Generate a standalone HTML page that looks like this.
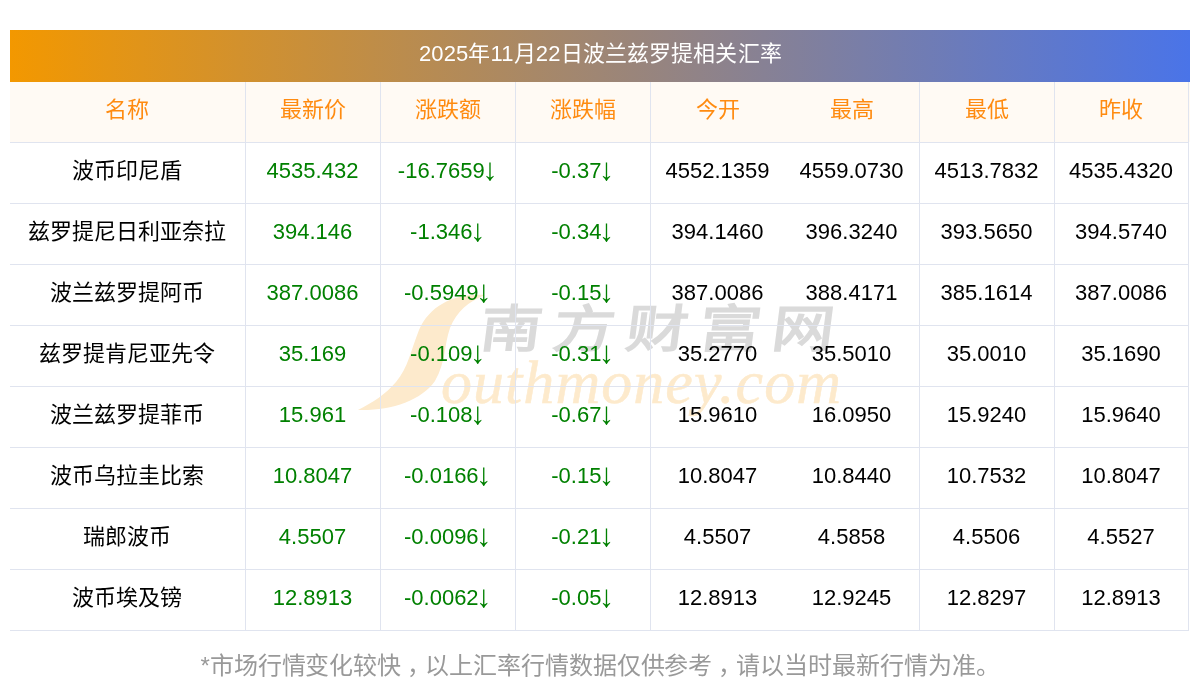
<!DOCTYPE html>
<html lang="zh-CN">
<head>
<meta charset="utf-8">
<title>2025年11月22日波兰兹罗提相关汇率</title>
<style>
html,body{margin:0;padding:0;background:#fff;}
body{width:1200px;height:697px;position:relative;overflow:hidden;font-family:"Liberation Sans",sans-serif;font-size:22px;color:#000;}
#title{position:absolute;left:10px;top:30px;width:1180px;height:52px;line-height:47px;text-align:center;color:#fff;font-size:22px;letter-spacing:0.13px;
background:linear-gradient(90deg,#f39800 0%,#4a74e8 100%);}
#hbg{position:absolute;left:10px;top:82px;width:1180px;height:60px;background:#fffaf4;}
#grid{will-change:transform;position:absolute;left:10px;top:82px;width:1179px;display:grid;grid-template-columns:236px 135px 135px 135px 135px 134px 135px 134px;grid-auto-rows:61px;}
#grid>div{box-sizing:border-box;border-right:1px solid #e0e4ef;border-bottom:1px solid #e0e4ef;line-height:55px;height:61px;text-align:center;white-space:nowrap;overflow:hidden;padding-right:1px;}
#grid>div:nth-child(8n+5),#grid>div:nth-child(8n+6){padding-right:2px;}
#grid>div.h{color:#ff8b10;}
#grid>div.g{color:#008000;}
#grid>div.nb{border-right:none;}
.c{position:relative;left:5.5px;}
.a{font-size:31px;line-height:0;position:relative;top:2px;margin-left:-2.6px;margin-right:-0.5px;}
#note{will-change:transform;position:absolute;left:0;top:649px;letter-spacing:-0.07px;width:1200px;text-align:center;font-size:24px;color:#999;line-height:34px;white-space:nowrap;}
</style>
</head>
<body>
<div id="title"><span style="will-change:transform;display:inline-block;">2025年11月22日波兰兹罗提相关汇率</span></div>
<div id="hbg"></div>
<svg id="wm" width="1200" height="697" viewBox="0 0 1200 697" style="position:absolute;left:0;top:0;">
<path d="M485,295 C455,293 430,305 419,330 C411,350 408,368 396,382 C386,394 372,403 358,410 C390,411 421,401 435,381 C446,362 444,345 450,328 C457,311 468,302 485,295 Z" fill="#fdeacc"/>
<text x="441" y="402.5" font-family="Liberation Serif, serif" font-style="italic" font-size="62" fill="#fdeacc" stroke="#fdeacc" stroke-width="0.5" textLength="400" lengthAdjust="spacing">outhmoney.com</text>
<g transform="translate(478,347) scale(1.22,1) skewX(-6)"><text x="0" y="0" font-family="Liberation Sans, sans-serif" font-weight="bold" font-size="51" fill="#dadada" letter-spacing="9">南方财富网</text></g>
</svg>
<div id="grid">
<div class="h">名称</div><div class="h">最新价</div><div class="h">涨跌额</div><div class="h">涨跌幅</div><div class="h nb">今开</div><div class="h">最高</div><div class="h">最低</div><div class="h">昨收</div>
<div>波币印尼盾</div><div class="g">4535.432</div><div class="g">-16.7659<span class="a">↓</span></div><div class="g">-0.37<span class="a">↓</span></div><div class="nb">4552.1359</div><div>4559.0730</div><div>4513.7832</div><div>4535.4320</div>
<div>兹罗提尼日利亚奈拉</div><div class="g">394.146</div><div class="g">-1.346<span class="a">↓</span></div><div class="g">-0.34<span class="a">↓</span></div><div class="nb">394.1460</div><div>396.3240</div><div>393.5650</div><div>394.5740</div>
<div>波兰兹罗提阿币</div><div class="g">387.0086</div><div class="g">-0.5949<span class="a">↓</span></div><div class="g">-0.15<span class="a">↓</span></div><div class="nb">387.0086</div><div>388.4171</div><div>385.1614</div><div>387.0086</div>
<div>兹罗提肯尼亚先令</div><div class="g">35.169</div><div class="g">-0.109<span class="a">↓</span></div><div class="g">-0.31<span class="a">↓</span></div><div class="nb">35.2770</div><div>35.5010</div><div>35.0010</div><div>35.1690</div>
<div>波兰兹罗提菲币</div><div class="g">15.961</div><div class="g">-0.108<span class="a">↓</span></div><div class="g">-0.67<span class="a">↓</span></div><div class="nb">15.9610</div><div>16.0950</div><div>15.9240</div><div>15.9640</div>
<div>波币乌拉圭比索</div><div class="g">10.8047</div><div class="g">-0.0166<span class="a">↓</span></div><div class="g">-0.15<span class="a">↓</span></div><div class="nb">10.8047</div><div>10.8440</div><div>10.7532</div><div>10.8047</div>
<div>瑞郎波币</div><div class="g">4.5507</div><div class="g">-0.0096<span class="a">↓</span></div><div class="g">-0.21<span class="a">↓</span></div><div class="nb">4.5507</div><div>4.5858</div><div>4.5506</div><div>4.5527</div>
<div>波币埃及镑</div><div class="g">12.8913</div><div class="g">-0.0062<span class="a">↓</span></div><div class="g">-0.05<span class="a">↓</span></div><div class="nb">12.8913</div><div>12.9245</div><div>12.8297</div><div>12.8913</div>
</div>
<div id="note">*市场行情变化较快<span class="c">，</span>以上汇率行情数据仅供参考<span class="c">，</span>请以当时最新行情为准。</div>
</body>
</html>
